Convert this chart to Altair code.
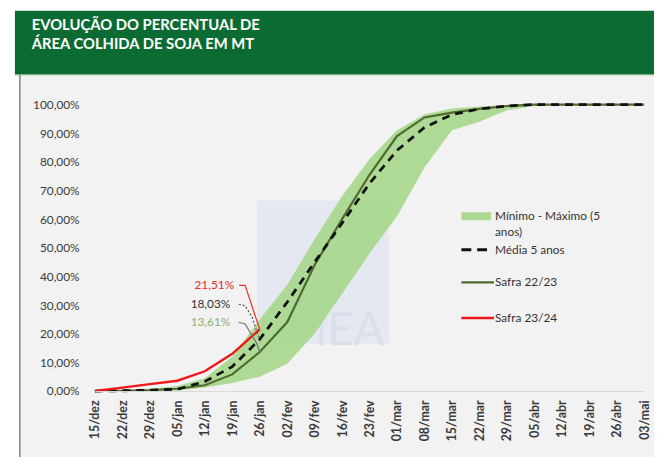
import altair as alt
import pandas as pd

# ---------------- data ----------------
dates = ["15/dez", "22/dez", "29/dez", "05/jan", "12/jan", "19/jan", "26/jan",
         "02/fev", "09/fev", "16/fev", "23/fev", "01/mar", "08/mar", "15/mar",
         "22/mar", "29/mar", "05/abr", "12/abr", "19/abr", "26/abr", "03/mai"]
band_min = [0, 0, 0, 0.2, 1.2, 2.8, 5, 9.5, 20, 34, 48, 61, 78, 91, 94, 98, 99.5, 100, 100, 100, 100]
band_max = [0, 0.2, 0.6, 1.8, 4.5, 12, 25, 37, 53, 68, 81, 91, 96.5, 98.6, 99.3, 99.8, 100, 100, 100, 100, 100]
media_5 = [0, 0.1, 0.3, 0.6, 3.3, 8.5, 18.03, 31, 45, 58.6, 72.5, 84, 92, 96.5, 98.5, 99.5, 100, 100, 100, 100, 100]
safra_2223 = [0, 0.1, 0.3, 0.8, 2, 5.8, 13.61, 24, 44, 60, 75.5, 89, 95.5, 97.2, 98.5, 99.5, 100, 100, 100, 100, 100]
safra_2324 = [0, 1.2, 2.4, 3.6, 6.9, 13, 21.51]
y_ticks = [0, 10, 20, 30, 40, 50, 60, 70, 80, 90, 100]

ann_labels = ["21,51%", "18,03%", "13,61%"]
ann_values = [21.51, 18.03, 13.61]
title_lines = ["EVOLUÇÃO DO PERCENTUAL DE", "ÁREA COLHIDA DE SOJA EM MT"]
legend_labels = ["Mínimo - Máximo (5", "anos)", "Média 5 anos", "Safra 22/23", "Safra 23/24"]

# ---------------- tables ----------------
idx = list(range(len(dates)))
df_band = pd.DataFrame({"i": idx, "lo": band_min, "hi": band_max})
df_media = pd.DataFrame({"i": idx, "v": media_5})
df_2223 = pd.DataFrame({"i": idx, "v": safra_2223})
df_2324 = pd.DataFrame({"i": idx[:len(safra_2324)], "v": safra_2324})
dummy = pd.DataFrame({"a": [0]})

label_js = "[" + ",".join(f"'{d}'" for d in dates) + "]"

W, H = 556, 290
FONT = "Lato"

xs = alt.Scale(domain=[0, len(dates) - 1], nice=False, zero=False)
ys = alt.Scale(domain=[0, 100], nice=False)

x_axis = alt.Axis(values=idx, tickCount=len(dates), labelExpr=f"{label_js}[datum.value]",
                  labelAngle=270, labelAlign="right", labelBaseline="middle", labelPadding=9,
                  labelOverlap=False, labelBound=False, labelFlush=False,
                  ticks=False, tickSize=0, grid=False, domain=True,
                  domainColor="#d9d9d9", domainWidth=1, title=None, zindex=1,
                  labelFont=FONT, labelFontSize=12.5, labelFontWeight="bold",
                  labelColor="#3a3a3a")
y_axis = alt.Axis(values=y_ticks, tickCount=len(y_ticks),
                  labelExpr="replace(format(datum.value, '.2f'), '.', ',') + '%'",
                  labelOverlap=False, labelBound=False, labelFlush=False,
                  ticks=False, tickSize=0, grid=False, domain=False, labelPadding=16,
                  title=None, zindex=1, labelFont=FONT, labelFontSize=12,
                  labelColor="#3a3a3a")

# ---------------- decoration ----------------
panel = alt.Chart(dummy).mark_rect(color="#f2f2f2").encode(
    x=alt.value(-76), x2=alt.value(566), y=alt.value(-30), y2=alt.value(362))
header = alt.Chart(dummy).mark_rect(color="#0b6b32").encode(
    x=alt.value(-81), x2=alt.value(566), y=alt.value(-95), y2=alt.value(-31))
header_line = alt.Chart(dummy).mark_rect(color="#7fb08d").encode(
    x=alt.value(-81), x2=alt.value(566), y=alt.value(-31), y2=alt.value(-29.8))
left_border = alt.Chart(dummy).mark_rule(color="#808080", strokeWidth=1.5).encode(
    x=alt.value(-76), y=alt.value(-30), y2=alt.value(362))
t1 = alt.Chart(dummy).mark_text(align="left", baseline="alphabetic", font=FONT, fontSize=15,
                                fontWeight="bold", color="white").encode(
    x=alt.value(-64), y=alt.value(-76), text=alt.value(title_lines[0]))
t2 = alt.Chart(dummy).mark_text(align="left", baseline="alphabetic", font=FONT, fontSize=15,
                                fontWeight="bold", color="white").encode(
    x=alt.value(-64), y=alt.value(-56), text=alt.value(title_lines[1]))

# ---------------- data marks ----------------
band = alt.Chart(df_band).mark_area(color="#aad890", opacity=0.95).encode(
    x=alt.X("i:Q", scale=xs, axis=x_axis), y=alt.Y("lo:Q", scale=ys, axis=y_axis), y2="hi:Q")

# watermark
wm_rect = alt.Chart(pd.DataFrame({"x": [5.9], "x2": [10.7], "y": [16.6], "y2": [66.5]})).mark_rect(
    color="#e5e8f0").encode(
    x=alt.X("x:Q", scale=xs), x2="x2:Q",
    y=alt.Y("y:Q", scale=ys), y2="y2:Q")
wm_text = alt.Chart(pd.DataFrame({"x": [8.5], "y": [15.9], "t": ["IMEA"]})).mark_text(
    font=FONT, fontSize=46, color="#dadfea", baseline="alphabetic", align="center").encode(
    x=alt.X("x:Q", scale=xs), y=alt.Y("y:Q", scale=ys), text="t:N")

line_2223 = alt.Chart(df_2223).mark_line(color="#4d6b2c", strokeWidth=2.2).encode(
    x=alt.X("i:Q", scale=xs), y=alt.Y("v:Q", scale=ys))
line_media = alt.Chart(df_media).mark_line(color="#111111", strokeWidth=2.8,
                                           strokeDash=[8, 6]).encode(
    x=alt.X("i:Q", scale=xs), y=alt.Y("v:Q", scale=ys))
line_2324 = alt.Chart(df_2324).mark_line(color="#f01818", strokeWidth=2.4).encode(
    x=alt.X("i:Q", scale=xs), y=alt.Y("v:Q", scale=ys))

# ---------------- annotations ----------------
last = len(safra_2324) - 1
c_red = pd.DataFrame({"x": [5.25, 5.47, last], "y": [36.9, 36.9, ann_values[0]], "o": [0, 1, 2]})
c_blk = pd.DataFrame({"x": [5.24, 5.47, 5.72, 5.9, last], "y": [30.3, 29.8, 25.9, 20.5, ann_values[1]],
                      "o": [0, 1, 2, 3, 4]})
c_grn = pd.DataFrame({"x": [5.24, 5.47, 5.9, last], "y": [24.0, 23.4, 16.5, ann_values[2]],
                      "o": [0, 1, 2, 3]})

conn_red = alt.Chart(c_red).mark_line(color="#f03030", strokeWidth=1.2).encode(
    x=alt.X("x:Q", scale=xs), y=alt.Y("y:Q", scale=ys), order="o:Q")
conn_blk = alt.Chart(c_blk).mark_line(color="#555555", strokeWidth=1.2, strokeDash=[2, 2]).encode(
    x=alt.X("x:Q", scale=xs), y=alt.Y("y:Q", scale=ys), order="o:Q")
conn_grn = alt.Chart(c_grn).mark_line(color="#6f6f6f", strokeWidth=1.2).encode(
    x=alt.X("x:Q", scale=xs), y=alt.Y("y:Q", scale=ys), order="o:Q")

df_ann = pd.DataFrame({"x": [5.07, 4.93, 4.93], "y": [36.9, 30.3, 24.0], "t": ann_labels,
                       "c": ["#ea2a2a", "#333333", "#8fae74"]})
ann_text = alt.Chart(df_ann).mark_text(align="right", baseline="middle", font=FONT,
                                       fontSize=12).encode(
    x=alt.X("x:Q", scale=xs), y=alt.Y("y:Q", scale=ys), text="t:N",
    color=alt.Color("c:N", scale=None))

# ---------------- legend ----------------
LX0, LX1, TX = 371, 401, 405
leg_rect = alt.Chart(dummy).mark_rect(color="#aad890").encode(
    x=alt.value(LX0), x2=alt.value(LX1), y=alt.value(109), y2=alt.value(117))
leg_dash = alt.Chart(dummy).mark_rule(color="#111111", strokeWidth=3, strokeDash=[10, 6]).encode(
    x=alt.value(LX0), x2=alt.value(LX1 - 2), y=alt.value(147))
leg_2223 = alt.Chart(dummy).mark_rule(color="#4d6b2c", strokeWidth=2.5).encode(
    x=alt.value(LX0), x2=alt.value(LX1 + 3), y=alt.value(180))
leg_2324 = alt.Chart(dummy).mark_rule(color="#f01818", strokeWidth=2.5).encode(
    x=alt.value(LX0), x2=alt.value(LX1 + 3), y=alt.value(216))

leg_texts = []
for lab, yy in zip(legend_labels, [113, 129, 147, 180, 216]):
    leg_texts.append(alt.Chart(dummy).mark_text(align="left", baseline="middle", font=FONT,
                                                fontSize=12, color="#333333").encode(
        x=alt.value(TX), y=alt.value(yy), text=alt.value(lab)))

chart = alt.layer(
    panel, header, header_line, left_border, t1, t2,
    wm_rect, wm_text,
    band, line_2223, line_media, line_2324,
    conn_red, conn_blk, conn_grn, ann_text,
    leg_rect, leg_dash, leg_2223, leg_2324, *leg_texts,
).properties(
    width=W, height=H,
    autosize=alt.AutoSizeParams(type="none"),
    padding={"left": 88, "top": 95, "right": 10, "bottom": 64},
    background="white",
).configure_view(stroke="transparent")

chart.save("out.html", embed_options={"renderer": "svg", "actions": False})
